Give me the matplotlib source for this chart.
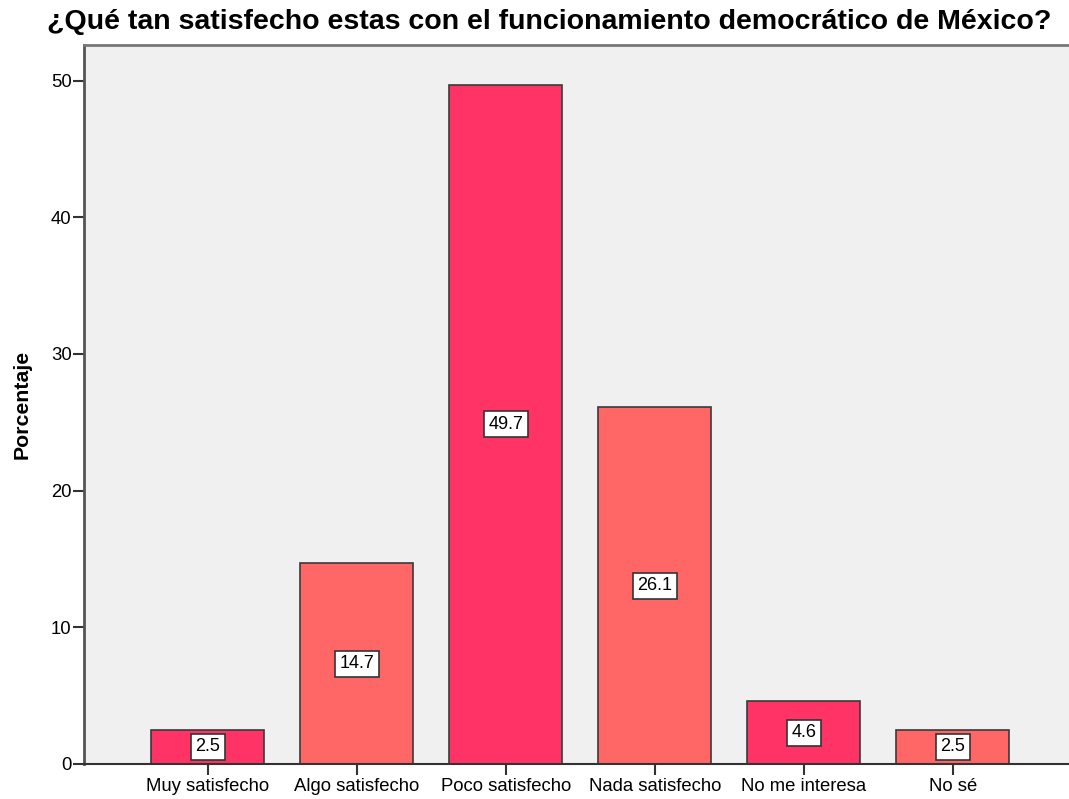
import numpy as np
import matplotlib.pyplot as plt

# categorias y porcentajes
categorias = ["Muy satisfecho", "Algo satisfecho", "Poco satisfecho",
              "Nada satisfecho", "No me interesa", "No sé"]
porcentaje = [2.5, 14.7, 49.7, 26.1, 4.6, 2.5]
yticks = [0, 10, 20, 30, 40, 50]

plt.rcParams['font.family'] = ['Liberation Sans', 'DejaVu Sans']

fig = plt.figure(figsize=(10.69, 7.99), dpi=100)
ax = fig.add_axes([84/1069, 35/799, 985/1069, 719/799])
ax.set_facecolor('#f0f0f0')

x = np.arange(len(categorias))
colores = ['#ff3366' if i % 2 == 0 else '#ff6666' for i in x]
ax.bar(x, porcentaje, width=0.76, color=colores, edgecolor='#3a3a3a', linewidth=1.2, zorder=2)

#etiquetas de valor en cajas blancas
for xi, v in zip(x, porcentaje):
    ax.text(xi, v / 2, f"{v:.1f}", ha='center', va='center', fontsize=13, zorder=3,
            bbox=dict(boxstyle='square,pad=0.25', fc='white', ec='#333333', lw=1.2))

ax.set_xlim(-0.83, 5.78)
ax.set_ylim(0, 52.6)
ax.set_xticks(x)
ax.set_xticklabels(categorias, fontsize=13.3)
ax.set_yticks(yticks)
ax.tick_params(axis='y', labelsize=13.3, colors='#333333', length=8, width=1.5, pad=1)
ax.tick_params(axis='x', length=8, width=1.5, colors='#333333', pad=2)
for lbl in ax.get_xticklabels() + ax.get_yticklabels():
    lbl.set_color('black')

ax.spines['right'].set_visible(False)
ax.spines['left'].set_color('#555555')
ax.spines['left'].set_linewidth(2)
ax.spines['top'].set_color('#777777')
ax.spines['top'].set_linewidth(2)
ax.spines['bottom'].set_color('#333333')
ax.spines['bottom'].set_linewidth(1.5)

ax.set_ylabel("Porcentaje", fontsize=15.3, fontweight='bold', labelpad=14)
fig.text(0.5136, 0.972, "¿Qué tan satisfecho estas con el funcionamiento democrático de México?",
         ha='center', va='center', fontsize=20.5, fontweight='bold')

fig.savefig('out.png', dpi=100)
